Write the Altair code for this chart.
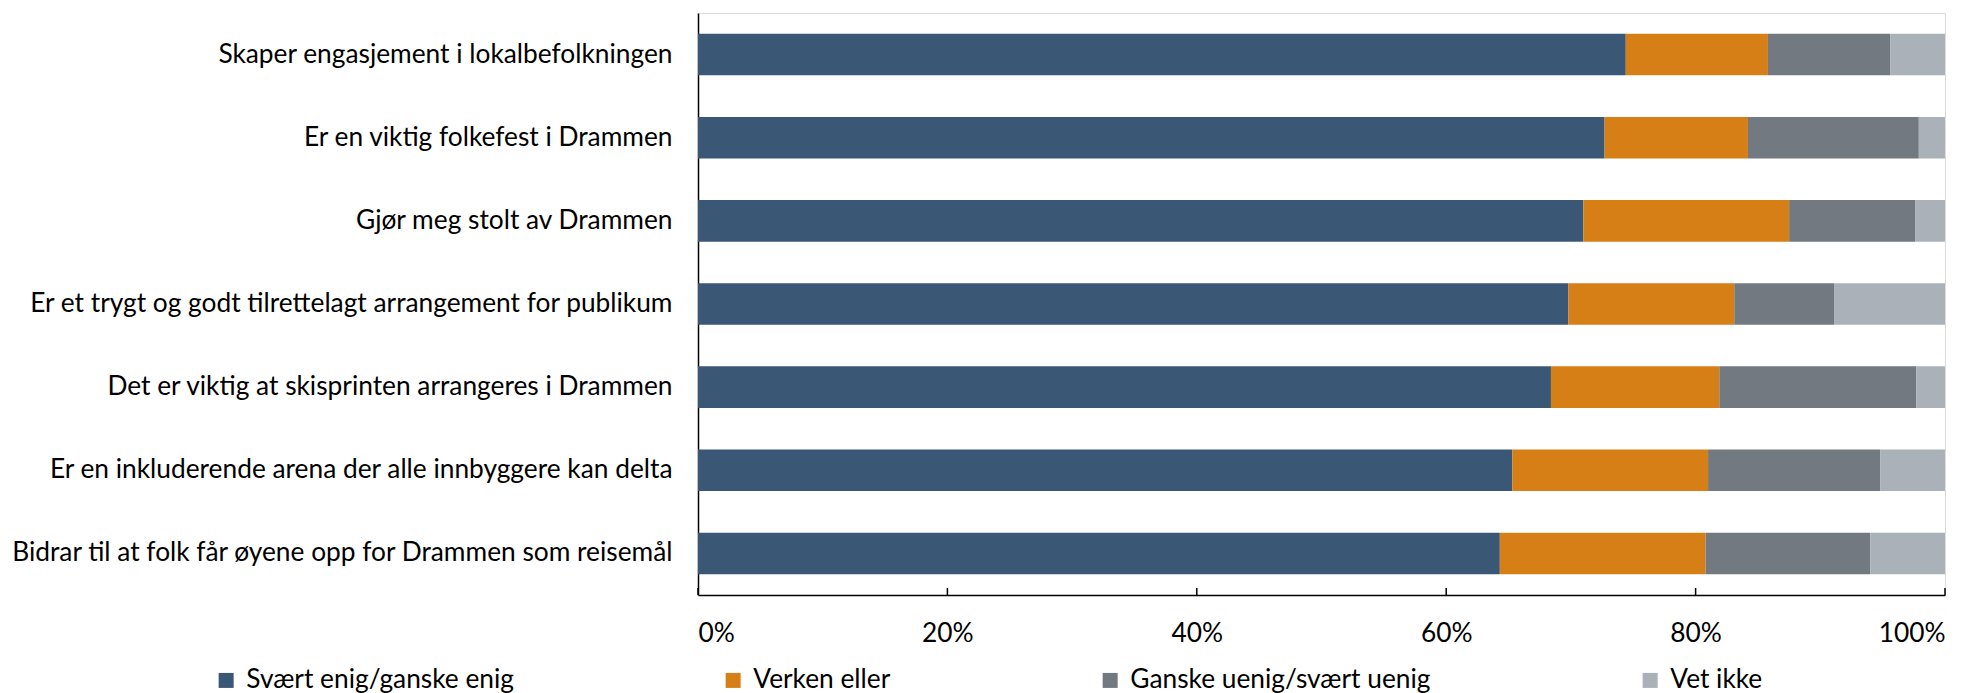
import altair as alt
import pandas as pd

categories = [
    "Skaper engasjement i lokalbefolkningen",
    "Er en viktig folkefest i Drammen",
    "Gjør meg stolt av Drammen",
    "Er et trygt og godt tilrettelagt arrangement for publikum",
    "Det er viktig at skisprinten arrangeres i Drammen",
    "Er en inkluderende arena der alle innbyggere kan delta",
    "Bidrar til at folk får øyene opp for Drammen som reisemål",
]
series = ["Svært enig/ganske enig", "Verken eller", "Ganske uenig/svært uenig", "Vet ikke"]
enig = [74.4, 72.7, 71.0, 69.8, 68.4, 65.3, 64.3]
verken = [11.4, 11.5, 16.5, 13.3, 13.5, 15.7, 16.5]
uenig = [9.8, 13.7, 10.1, 8.0, 15.8, 13.8, 13.2]
vet_ikke = [4.4, 2.1, 2.4, 8.9, 2.3, 5.2, 6.0]
colors = ["#3A5775", "#D77F17", "#727980", "#AAB1B8"]
tick_values = [0, 20, 40, 60, 80, 100]

rows = []
for si, (name, vals) in enumerate(zip(series, [enig, verken, uenig, vet_ikke])):
    for cat, v in zip(categories, vals):
        rows.append({"cat": cat, "series": name, "value": v, "order": si})
df = pd.DataFrame(rows)
ticks_df = pd.DataFrame({"t": tick_values})

FONT = "Lato"
FS = 26.3
W, H = 1247, 582

x_scale = alt.Scale(domain=[0, 100], nice=False, zero=True)

bars = alt.Chart(df).mark_bar().encode(
    y=alt.Y("cat:N", sort=categories,
            scale=alt.Scale(paddingInner=0.5, paddingOuter=0.25),
            axis=alt.Axis(title=None, ticks=False, labelPadding=26, labelLimit=1000,
                          labelFontSize=FS, labelFont=FONT, labelColor="#000000",
                          domainColor="#000000", domainWidth=1.5)),
    x=alt.X("value:Q", stack="zero", scale=x_scale,
            axis=alt.Axis(title=None, values=tick_values, ticks=False, grid=False,
                          labelExpr="datum.value + '%'", labelPadding=25,
                          labelFontSize=FS, labelFont=FONT, labelColor="#000000",
                          domainColor="#000000", domainWidth=1.5)),
    color=alt.Color("series:N", sort=series,
                    scale=alt.Scale(domain=series, range=colors),
                    legend=alt.Legend(title=None, orient="none", direction="horizontal",
                                      legendX=-485, legendY=654, symbolType="square",
                                      symbolSize=225, symbolStrokeWidth=0,
                                      labelFontSize=FS, labelFont=FONT, labelColor="#000000",
                                      labelOffset=7, columnPadding=206, padding=0,
                                      labelLimit=1000)),
    order=alt.Order("order:Q"),
)

tick_marks = alt.Chart(ticks_df).mark_rule(color="#000000", strokeWidth=1.5).encode(
    x=alt.X("t:Q", scale=x_scale),
    y=alt.value(H - 7),
    y2=alt.value(H),
)

chart = alt.layer(bars, tick_marks).properties(
    width=W, height=H,
    autosize=alt.AutoSizeParams(type="none"),
    padding={"left": 690, "top": 5, "right": 20, "bottom": 98},
).configure_view(stroke=None).configure(background="white")

chart.save("out.html", embed_options={"renderer": "svg", "actions": False})
